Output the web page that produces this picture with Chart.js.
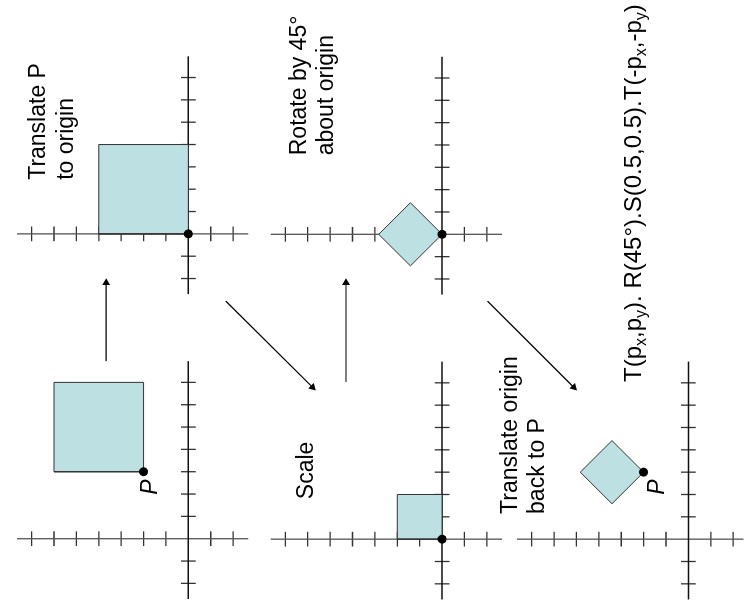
<!DOCTYPE html>
<html>
<head>
<meta charset="utf-8">
<script src="https://cdn.jsdelivr.net/npm/chart.js@4.4.1/dist/chart.umd.min.js"></script>
<style>
  html, body { margin: 0; padding: 0; background: #fff; }
  #page { width: 748px; height: 612px; overflow: hidden; position: relative; }
  /* the diagram is drawn upright and turned a quarter left, like the slide */
  #turn { position: absolute; left: 0; top: 0; width: 612px; height: 748px;
          transform-origin: 0 0; transform: translate(0, 612px) rotate(-90deg); }
</style>
</head>
<body>
<div id="page"><div id="turn"><canvas id="chart" width="612" height="748"></canvas></div></div>
<script>
// grid values of every panel (one unit = one tick)
const tickValues = [-2, -1, 1, 2, 3, 4, 5, 6, 7];
const axisX = [-2.7, 7.95];
const axisY = [-2.68, 7.65];

const squareStart   = [[3, 2], [7, 2], [7, 6], [3, 6]];
const squareOrigin  = [[0, 0], [4, 0], [4, 4], [0, 4]];
const squareScaled  = [[0, 0], [2, 0], [2, 2], [0, 2]];
const squareRotated = [[0, 0], [1.414, 1.414], [0, 2.828], [-1.414, 1.414]];
const squareBack    = [[3, 2], [4.414, 3.414], [3, 4.828], [1.586, 3.414]];

const pointP = [3, 2];
const origin = [0, 0];

const panelShapes = [squareStart, squareOrigin, squareScaled, squareRotated, squareBack];
const panelDots = [pointP, origin, origin, origin, pointP];
const panelTitles = [[], ['Translate P', 'to origin'], ['Scale'], ['Rotate by 45°', 'about origin'], ['Translate origin', 'back to P']];
const formulaParts = [['T(p', 0], ['x', 1], [',p', 0], ['y', 1], ['). R(45°).S(0.5,0.5).T(-p', 0], ['x', 1], [',-p', 0], ['y', 1], [')', 0]];

// layout, in page grid units (canvas is 27 x 33 units)
const panelOrigin = [[3.08, 24.79], [16.73, 24.79], [3.06, 13.46], [16.71, 13.46], [3.06, 2.46]];
const titleAt = [null, [19.15, 31.19], [4.85, 19.23], [20.25, 19.54], [4.19, 10.12]];
const pLabelAt = [[5.74, 26.21], null, null, null, [5.74, 3.53]];
const formulaAt = [10.1, 4.59];
const arrowPaths = [
  [[11.03, 28.46], [14.54, 28.46]],
  [[13.72, 23.12], [9.86, 19.24]],
  [[10.10, 17.75], [14.54, 17.75]],
  [[13.72, 11.43], [9.86, 7.58]]
];
const TICK = 0.33;
const LINE_GAP = 27.5;
const FONT = '"Liberation Sans", Arial, sans-serif';

const GAP = {x: null, y: null};
const at = (o, p) => ({x: o[0] + p[0], y: o[1] + p[1]});

const datasets = [];
panelOrigin.forEach((o, i) => {
  datasets.push({data: [at(o, [axisX[0], 0]), at(o, [axisX[1], 0])], borderColor: '#111', borderWidth: 1.5, order: 5});
  datasets.push({data: [at(o, [0, axisY[0]]), at(o, [0, axisY[1]])], borderColor: '#555', borderWidth: 1.3, order: 5});
  const ticks = [];
  tickValues.forEach(t => {
    ticks.push(at(o, [t, -TICK]), at(o, [t, TICK]), GAP);
    ticks.push(at(o, [-TICK, t]), at(o, [TICK, t]), GAP);
  });
  datasets.push({data: ticks, borderColor: '#333', borderWidth: 1.3, order: 5});

  const shape = panelShapes[i].map(p => at(o, p));
  shape.push(shape[0]);
  datasets.push({data: shape, borderColor: '#333', borderWidth: 1, backgroundColor: '#bde0e3', fill: 'shape', order: 2});

  datasets.push({data: [at(o, panelDots[i])], showLine: false, pointRadius: 4.5,
    pointBackgroundColor: '#000', pointBorderWidth: 0, order: 0});
});

arrowPaths.forEach(([a, b]) => {
  const angle = Math.atan2(b[0] - a[0], b[1] - a[1]) * 180 / Math.PI;
  datasets.push({
    data: [{x: a[0], y: a[1]}, {x: b[0], y: b[1]}],
    borderColor: '#000', borderWidth: 1.2, order: 1,
    pointRadius: [0, 4.5], pointStyle: 'triangle', pointRotation: [0, angle],
    pointBackgroundColor: '#000', pointBorderColor: '#000', pointBorderWidth: 0
  });
});

const textPlugin = {
  id: 'texts',
  afterDatasetsDraw(chart) {
    const {ctx, scales: {x, y}} = chart;
    ctx.save();
    ctx.fillStyle = '#000';
    ctx.textBaseline = 'alphabetic';
    ctx.textAlign = 'left';
    ctx.font = '23px ' + FONT;
    panelTitles.forEach((lines, i) => {
      if (!titleAt[i]) return;
      lines.forEach((t, k) => {
        ctx.fillText(t, x.getPixelForValue(titleAt[i][0]), y.getPixelForValue(titleAt[i][1]) + k * LINE_GAP);
      });
    });

    ctx.font = 'italic 23px ' + FONT;
    ctx.textAlign = 'right';
    pLabelAt.forEach(p => {
      if (p) ctx.fillText('P', x.getPixelForValue(p[0]), y.getPixelForValue(p[1]));
    });

    ctx.textAlign = 'left';
    let px = x.getPixelForValue(formulaAt[0]);
    const py = y.getPixelForValue(formulaAt[1]);
    formulaParts.forEach(([t, sub]) => {
      ctx.font = (sub ? '16px ' : '24px ') + FONT;
      ctx.fillText(t, px, py + (sub ? 5 : 0));
      px += ctx.measureText(t).width;
    });
    ctx.restore();
  }
};

new Chart(document.getElementById('chart'), {
  type: 'scatter',
  data: {datasets: datasets.map(d => Object.assign({showLine: true, pointRadius: 0, tension: 0}, d))},
  options: {
    responsive: false,
    animation: false,
    events: [],
    layout: {padding: 0},
    plugins: {legend: {display: false}, tooltip: {enabled: false}},
    scales: {
      x: {type: 'linear', min: 0, max: 27, display: false},
      y: {type: 'linear', min: 0, max: 33, display: false}
    }
  },
  plugins: [textPlugin]
});
</script>
</body>
</html>
